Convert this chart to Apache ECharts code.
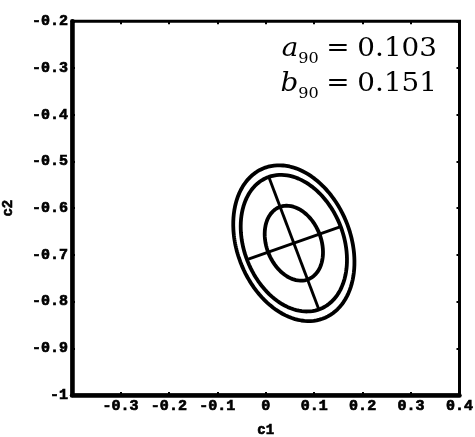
<!DOCTYPE html>
<html>
<head>
<meta charset="utf-8">
<script src="https://cdn.jsdelivr.net/npm/echarts@6/dist/echarts.min.js"></script>
<style>
  html, body { margin: 0; padding: 0; background: #fff; }
  #chart { width: 475px; height: 437px; }
</style>
</head>
<body>
<div id="chart"></div>
<script>
// Axis ranges and tick labels
const xRange = [-0.4, 0.4];
const yRange = [-1, -0.2];
const tickStep = 0.1;
const xTickValues = [-0.3, -0.2, -0.1, 0, 0.1, 0.2, 0.3, 0.4];
const xTickLabels = ['-0.3', '-0.2', '-0.1', '0', '0.1', '0.2', '0.3', '0.4'];
const yTickValues = [-1, -0.9, -0.8, -0.7, -0.6, -0.5, -0.4, -0.3, -0.2];
const yTickLabels = ['-1', '-0.9', '-0.8', '-0.7', '-0.6', '-0.5', '-0.4', '-0.3', '-0.2'];
const xName = 'c1';
const yName = 'c2';

// Confidence ellipse: centre (c1, c2), 90% semi-axes a90 / b90, tilt of the a-axis (degrees)
const ellipseCenter = [0.058, -0.675];
const a90 = 0.103;
const b90 = 0.151;
const tiltDeg = 20;
// Chi-square quantiles (2 dof) for the drawn contours: 50%, 90%, 95%
const contourQuantiles = [1.386, 4.605, 5.991];
const referenceQuantile = 4.605;

function labelFor(values, labels, v) {
  for (let i = 0; i < values.length; i++) {
    if (Math.abs(values[i] - v) < 1e-6) return labels[i];
  }
  return '';
}

const th = tiltDeg * Math.PI / 180;
const ua = [Math.cos(th), Math.sin(th)];
const ub = [-Math.sin(th), Math.cos(th)];

function ellipsePoints(scale) {
  const pts = [];
  const n = 240;
  for (let k = 0; k <= n; k++) {
    const t = 2 * Math.PI * k / n;
    const ca = scale * a90 * Math.cos(t);
    const cb = scale * b90 * Math.sin(t);
    pts.push([
      ellipseCenter[0] + ca * ua[0] + cb * ub[0],
      ellipseCenter[1] + ca * ua[1] + cb * ub[1]
    ]);
  }
  return pts;
}

// Principal axes of the 90% contour
const axisPts = [
  [[ellipseCenter[0] - a90 * ua[0], ellipseCenter[1] - a90 * ua[1]],
   [ellipseCenter[0] + a90 * ua[0], ellipseCenter[1] + a90 * ua[1]]],
  [[ellipseCenter[0] - b90 * ub[0], ellipseCenter[1] - b90 * ub[1]],
   [ellipseCenter[0] + b90 * ub[0], ellipseCenter[1] + b90 * ub[1]]]
];

const tickFont = {
  fontFamily: 'Liberation Mono',
  fontWeight: 'bold',
  fontSize: 15,
  color: '#000',
  textBorderColor: '#000',
  textBorderWidth: 0.7
};
const nameFont = {
  fontFamily: 'Liberation Mono',
  fontWeight: 'bold',
  fontSize: 14,
  color: '#000',
  textBorderColor: '#000',
  textBorderWidth: 0.6
};

const series = [];
contourQuantiles.forEach(function (q) {
  series.push({
    type: 'line',
    data: ellipsePoints(Math.sqrt(q / referenceQuantile)),
    showSymbol: false,
    symbol: 'none',
    silent: true,
    lineStyle: { color: '#000', width: 3.8 }
  });
});
axisPts.forEach(function (seg) {
  series.push({
    type: 'line',
    data: seg,
    showSymbol: false,
    symbol: 'none',
    silent: true,
    lineStyle: { color: '#000', width: 2.9 }
  });
});

const innerTick = { show: true, inside: true, length: 3, lineStyle: { color: '#000', width: 2 } };

const chart = echarts.init(document.getElementById('chart'), null, { renderer: 'canvas' });
chart.setOption({
  animation: false,
  backgroundColor: '#fff',
  grid: {
    left: 72, right: 15.5, top: 21.3, bottom: 42,
    outerBoundsMode: 'none',
    containLabel: false,
    show: true, borderColor: '#000', borderWidth: 3, backgroundColor: 'transparent'
  },
  xAxis: [{
    type: 'value', min: xRange[0], max: xRange[1], interval: tickStep,
    position: 'bottom',
    axisLine: { show: true, onZero: false, lineStyle: { color: '#000', width: 4.5 } },
    axisTick: innerTick,
    splitLine: { show: false },
    axisLabel: Object.assign({
      margin: 4,
      showMinLabel: false,
      formatter: function (v) { return labelFor(xTickValues, xTickLabels, v); }
    }, tickFont),
    name: xName, nameLocation: 'middle', nameGap: 28,
    nameTextStyle: nameFont
  }, {
    type: 'value', min: xRange[0], max: xRange[1], interval: tickStep,
    position: 'top',
    axisLine: { show: false, onZero: false },
    axisTick: innerTick,
    axisLabel: { show: false },
    splitLine: { show: false }
  }],
  yAxis: [{
    type: 'value', min: yRange[0], max: yRange[1], interval: tickStep,
    position: 'left',
    axisLine: { show: true, onZero: false, lineStyle: { color: '#000', width: 4.5 } },
    axisTick: innerTick,
    splitLine: { show: false },
    axisLabel: Object.assign({
      margin: 4,
      formatter: function (v) { return labelFor(yTickValues, yTickLabels, v); }
    }, tickFont),
    name: yName, nameLocation: 'middle', nameGap: 57,
    nameTextStyle: nameFont
  }, {
    type: 'value', min: yRange[0], max: yRange[1], interval: tickStep,
    position: 'right',
    axisLine: { show: false, onZero: false },
    axisTick: innerTick,
    axisLabel: { show: false },
    splitLine: { show: false }
  }],
  graphic: [{
    type: 'text',
    x: 437,
    y: 31.8,
    scaleX: 1.07,
    style: {
      text: '{i|a}{s|90}{e|=}{n|' + a90.toFixed(3) + '}\n{i|b}{s|90}{e|=}{n|' + b90.toFixed(3) + '}',
      align: 'right',
      verticalAlign: 'top',
      fill: '#000',
      rich: {
        i: { fontFamily: 'DejaVu Serif', fontStyle: 'italic', fontSize: 26, lineHeight: 35, verticalAlign: 'middle', fill: '#000' },
        s: { fontFamily: 'DejaVu Serif', fontSize: 15, lineHeight: 17.5, verticalAlign: 'bottom', fill: '#000' },
        e: { fontFamily: 'DejaVu Serif', fontSize: 26, lineHeight: 35, verticalAlign: 'middle', padding: [0, 7.4, 0, 7], fill: '#000' },
        n: { fontFamily: 'DejaVu Serif', fontSize: 26, lineHeight: 35, verticalAlign: 'middle', fill: '#000' }
      }
    }
  }],
  series: series
});
</script>
</body>
</html>
